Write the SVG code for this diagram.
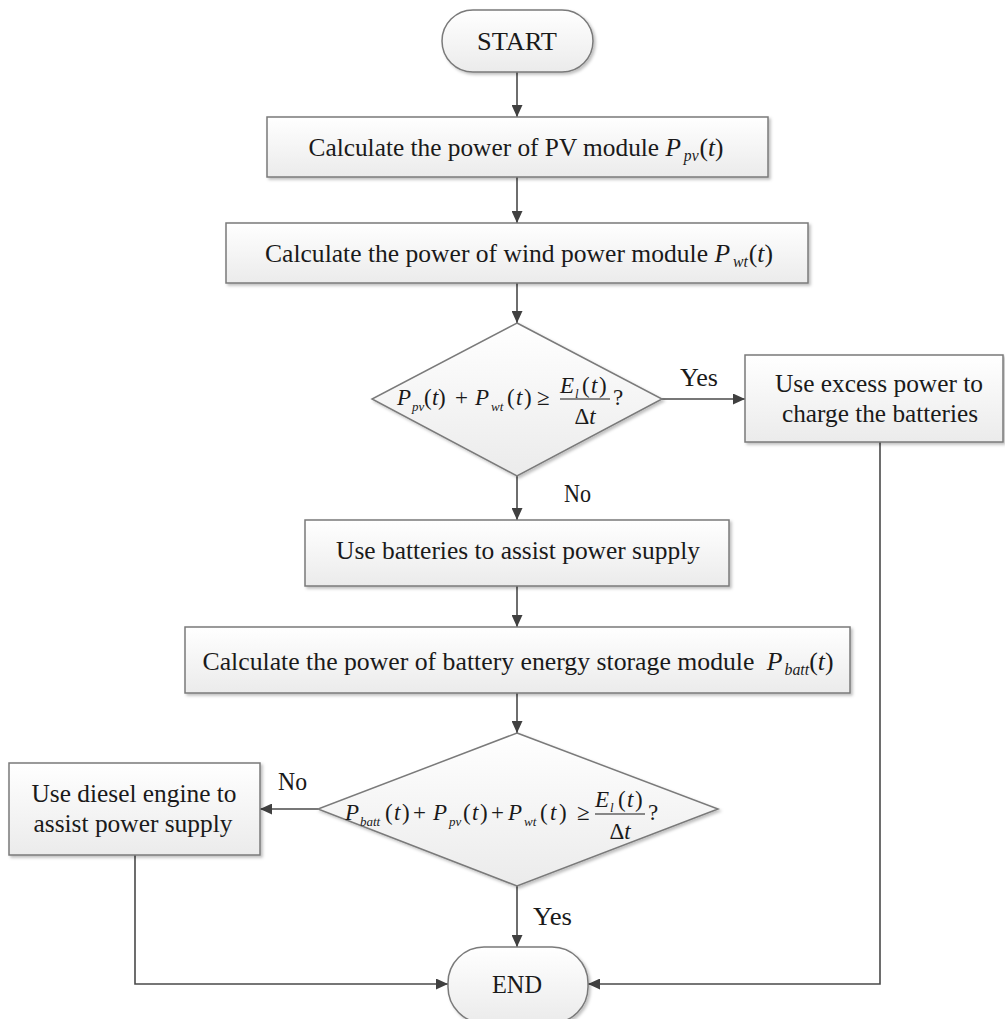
<svg xmlns="http://www.w3.org/2000/svg" width="1005" height="1019" viewBox="0 0 1005 1019" font-family="'Liberation Serif', 'DejaVu Serif', serif">
<defs>
<linearGradient id="g" x1="0" y1="0" x2="0" y2="1">
<stop offset="0" stop-color="#ffffff"/>
<stop offset="1" stop-color="#ebebeb"/>
</linearGradient>
<filter id="sh" x="-5%" y="-5%" width="110%" height="120%">
<feDropShadow dx="2" dy="2" stdDeviation="1.5" flood-color="#000" flood-opacity="0.25"/>
</filter>
<marker id="a" markerWidth="12" markerHeight="11" viewBox="0 0 12 11" refX="12" refY="5.5" orient="auto" markerUnits="userSpaceOnUse">
<path d="M0,0 L12,5.5 L0,11 z" fill="#404040"/>
</marker>
<style>
.n{fill:url(#g);stroke:#7a7a7a;stroke-width:1.5;filter:url(#sh)}
.t{font-family:'Liberation Serif','DejaVu Serif',serif;font-size:26px;fill:#1a1a1a}
.m{font-family:'Liberation Serif','DejaVu Serif',serif;font-size:23px;fill:#1a1a1a}
.i{font-style:italic}
.sub{font-size:13px;font-style:italic}
.s{font-size:16px;font-style:italic}
.c{stroke:#4a4a4a;stroke-width:1.6;fill:none}
</style>
</defs>

<g id="connectors">
<line class="c" x1="517" y1="72" x2="517" y2="117" marker-end="url(#a)"/>
<line class="c" x1="517" y1="177" x2="517" y2="223" marker-end="url(#a)"/>
<line class="c" x1="517" y1="283" x2="517" y2="323" marker-end="url(#a)"/>
<line class="c" x1="662" y1="399" x2="745" y2="399" marker-end="url(#a)"/>
<line class="c" x1="517" y1="476" x2="517" y2="520" marker-end="url(#a)"/>
<line class="c" x1="517" y1="586" x2="517" y2="627" marker-end="url(#a)"/>
<line class="c" x1="517" y1="693" x2="517" y2="733" marker-end="url(#a)"/>
<line class="c" x1="318" y1="809" x2="260" y2="809" marker-end="url(#a)"/>
<line class="c" x1="517" y1="886" x2="517" y2="947" marker-end="url(#a)"/>
<polyline class="c" points="135,855 135,984 448,984" marker-end="url(#a)"/>
<polyline class="c" points="880,442 880,984 588,984" marker-end="url(#a)"/>
<text class="t" x="680" y="386" textLength="38" lengthAdjust="spacingAndGlyphs">Yes</text>
<text class="t" x="564" y="502" textLength="27" lengthAdjust="spacingAndGlyphs">No</text>
<text class="t" x="278" y="790" textLength="29" lengthAdjust="spacingAndGlyphs">No</text>
<text class="t" x="533" y="925" textLength="39" lengthAdjust="spacingAndGlyphs">Yes</text>
</g>

<g id="start">
<rect class="n" x="442" y="10" width="151" height="62" rx="31" ry="31"/>
<text class="t" x="517" y="50" text-anchor="middle" textLength="80" lengthAdjust="spacingAndGlyphs">START</text>
</g>

<g id="calc-pv">
<rect class="n" x="267" y="117" width="501" height="60"/>
<text class="t" x="516" y="156" text-anchor="middle" textLength="415" lengthAdjust="spacingAndGlyphs">Calculate the power of PV module <tspan class="i">P</tspan><tspan class="s" dx="3" dy="5">pv</tspan><tspan dx="1" dy="-5">(</tspan><tspan class="i">t</tspan>)</text>
</g>

<g id="calc-wind">
<rect class="n" x="226" y="223" width="582" height="60"/>
<text class="t" x="519" y="262" text-anchor="middle" textLength="508" lengthAdjust="spacingAndGlyphs">Calculate the power of wind power module <tspan class="i">P</tspan><tspan class="s" dx="3" dy="5">wt</tspan><tspan dx="1" dy="-5">(</tspan><tspan class="i">t</tspan>)</text>
</g>

<g id="decision1">
<polygon class="n" points="517,323 662,399 517,476 372,399"/>
<text class="m" y="405"><tspan x="397" class="i">P</tspan><tspan x="412" y="411" class="sub">pv</tspan><tspan x="424" y="405">(</tspan><tspan x="432" class="i">t</tspan><tspan x="438">)</tspan><tspan x="455">+</tspan><tspan x="475" class="i">P</tspan><tspan x="491" y="411" class="sub">wt</tspan><tspan x="507" y="405">(</tspan><tspan x="516" class="i">t</tspan><tspan x="524">)</tspan><tspan x="537">≥</tspan><tspan x="613">?</tspan></text>
<text class="m" y="393"><tspan x="560" class="i">E</tspan><tspan x="575" y="398" class="sub">l</tspan><tspan x="582" y="393">(</tspan><tspan x="591" class="i">t</tspan><tspan x="599">)</tspan></text>
<line x1="560" y1="399" x2="610" y2="399" stroke="#1a1a1a" stroke-width="1.2"/>
<text class="m" x="585" y="424" text-anchor="middle">Δ<tspan class="i">t</tspan></text>
</g>

<g id="excess">
<rect class="n" x="745" y="355" width="258" height="87"/>
<text class="t" x="879" y="392" text-anchor="middle" textLength="208" lengthAdjust="spacingAndGlyphs">Use excess power to</text>
<text class="t" x="880" y="422" text-anchor="middle" textLength="196" lengthAdjust="spacingAndGlyphs">charge the batteries</text>
</g>

<g id="use-batteries">
<rect class="n" x="305" y="520" width="424" height="66"/>
<text class="t" x="518" y="559" text-anchor="middle" textLength="364" lengthAdjust="spacingAndGlyphs">Use batteries to assist power supply</text>
</g>

<g id="calc-batt">
<rect class="n" x="185" y="627" width="665" height="66"/>
<text class="t" x="518" y="670" text-anchor="middle" textLength="631" lengthAdjust="spacingAndGlyphs">Calculate the power of battery energy storage module <tspan class="i" dx="6">P</tspan><tspan class="s" dx="2" dy="5">batt</tspan><tspan dy="-5">(</tspan><tspan class="i">t</tspan>)</text>
</g>

<g id="decision2">
<polygon class="n" points="517,733 718,809 517,886 318,809"/>
<text class="m" y="820"><tspan x="345" class="i">P</tspan><tspan x="360" y="826" class="sub">batt</tspan><tspan x="385" y="820">(</tspan><tspan x="394" class="i">t</tspan><tspan x="402">)</tspan><tspan x="413">+</tspan><tspan x="433" class="i">P</tspan><tspan x="449" y="826" class="sub">pv</tspan><tspan x="463" y="820">(</tspan><tspan x="472" class="i">t</tspan><tspan x="480">)</tspan><tspan x="491">+</tspan><tspan x="508" class="i">P</tspan><tspan x="524" y="826" class="sub">wt</tspan><tspan x="540" y="820">(</tspan><tspan x="550" class="i">t</tspan><tspan x="559">)</tspan><tspan x="577">≥</tspan><tspan x="648">?</tspan></text>
<text class="m" y="807"><tspan x="595" class="i">E</tspan><tspan x="610" y="812" class="sub">l</tspan><tspan x="618" y="807">(</tspan><tspan x="627" class="i">t</tspan><tspan x="635">)</tspan></text>
<line x1="595" y1="814" x2="645" y2="814" stroke="#1a1a1a" stroke-width="1.2"/>
<text class="m" x="620" y="839" text-anchor="middle">Δ<tspan class="i">t</tspan></text>
</g>

<g id="diesel">
<rect class="n" x="9" y="763" width="251" height="92"/>
<text class="t" x="134" y="802" text-anchor="middle" textLength="205" lengthAdjust="spacingAndGlyphs">Use diesel engine to</text>
<text class="t" x="133" y="832" text-anchor="middle" textLength="199" lengthAdjust="spacingAndGlyphs">assist power supply</text>
</g>

<g id="end">
<rect class="n" x="448" y="947" width="140" height="76" rx="36" ry="36"/>
<text class="t" x="517" y="993" text-anchor="middle" textLength="50" lengthAdjust="spacingAndGlyphs">END</text>
</g>
</svg>
